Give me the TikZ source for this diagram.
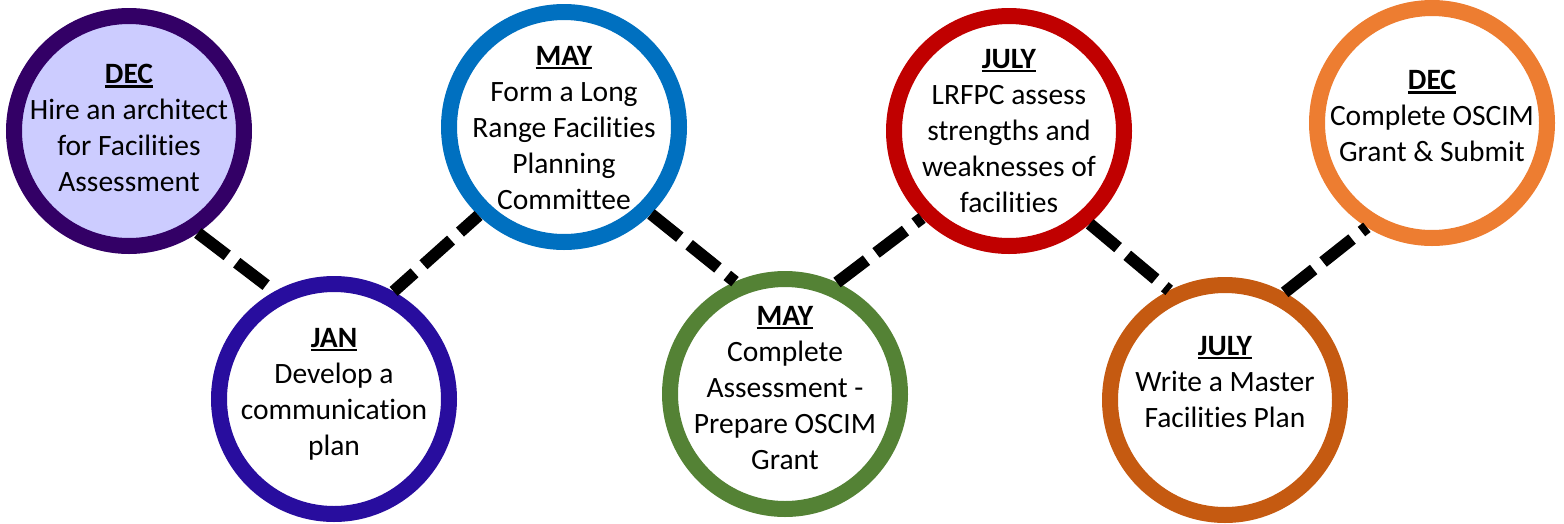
\documentclass[tikz,border=0pt]{standalone}
\usepackage{fontspec}
\setmainfont{Carlito}[Ligatures=NoCommon]
\definecolor{cA}{HTML}{330066}
\definecolor{cAfill}{HTML}{CCCCFF}
\definecolor{cB}{HTML}{280D9E}
\definecolor{cC}{HTML}{0070C0}
\definecolor{cD}{HTML}{548235}
\definecolor{cE}{HTML}{C00000}
\definecolor{cF}{HTML}{C55A11}
\definecolor{cG}{HTML}{ED7D31}
\newcommand\monthlbl[1]{\sbox0{\textbf{#1}}\rlap{\usebox0}\rule[-4pt]{\wd0}{2.6pt}}
\tikzset{
  ring/.style={circle, draw=#1, line width=16pt, minimum size=230pt, inner sep=0pt, fill=white},
  lbl/.style={align=center, font=\fontsize{29.5}{36}\selectfont, inner sep=0pt},
  link/.style={line width=12pt, black, dash pattern=on 37pt off 12pt}
}
\begin{document}
\begin{tikzpicture}[x=1pt,y=-1pt]
\useasboundingbox (0,0) rectangle (1564,523);
\node[ring=cA, fill=cAfill] (c1) at (129,131) {};
\node[ring=cB] (c2) at (334,399) {};
\node[ring=cC] (c3) at (564,127) {};
\node[ring=cD] (c4) at (785,394) {};
\node[ring=cE] (c5) at (1009,131) {};
\node[ring=cF] (c6) at (1225,400) {};
\node[ring=cG] (c7) at (1432,123) {};
\draw[link] (c1.-56) -- (c2.119);
\draw[link, dash phase=9pt] (c2.61) -- (c3.226);
\draw[link] (c3.-45) -- (c4.114);
\draw[link] (c4.65) -- (c5.225);
\draw[link] (c5.-49) -- (c6.117);
\draw[link] (c6.61) -- (c7.238);
\node[lbl] (t1) at (129,128) {\monthlbl{DEC}\\Hire an architect\\for Facilities\\Assessment};
\node[lbl] (t2) at (334,394) {\monthlbl{JAN}\\Develop a\\communication\\plan};
\node[lbl] (t3) at (564,128) {\monthlbl{MAY}\\Form a Long\\Range Facilities\\Planning\\Committee};
\node[lbl] (t4) at (785,388) {\monthlbl{MAY}\\Complete\\Assessment -\\Prepare OSCIM\\Grant};
\node[lbl] (t5) at (1009,131) {\monthlbl{JULY}\\LRFPC assess\\strengths and\\weaknesses of\\facilities};
\node[lbl] (t6) at (1225,382) {\monthlbl{JULY}\\Write a Master\\Facilities Plan};
\node[lbl] (t7) at (1432,116) {\monthlbl{DEC}\\Complete OSCIM\\Grant \& Submit};
\end{tikzpicture}
\end{document}
